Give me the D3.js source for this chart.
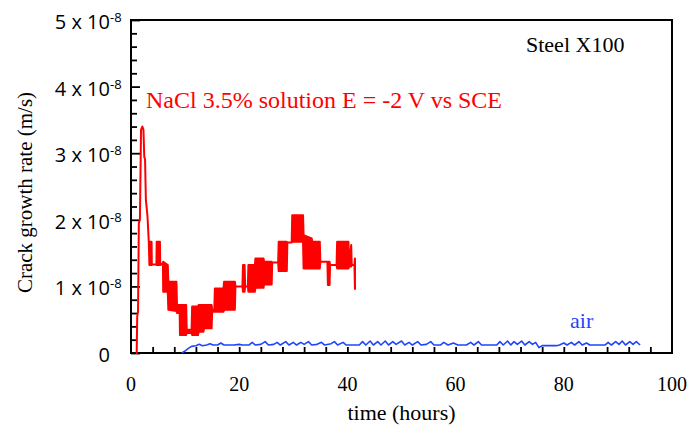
<!DOCTYPE html>
<html>
<head>
<meta charset="utf-8">
<script src="https://cdn.jsdelivr.net/npm/d3@7"></script>
<style>
body { margin: 0; background: #fff; }
</style>
</head>
<body>
<script>
var width = 688,
    height = 430;

// crack growth rate in units of 1e-8 m/s, time in hours
// red (NaCl) series: the fast oscillation is kept as low / high envelope
var redTime = [
  1.05, 1.15, 1.3, 1.45, 1.65, 1.85, 2.1, 2.3, 2.45, 2.6,
  2.75, 3.05, 3.3, 3.4, 3.8, 3.85, 4.7, 4.75, 5.35, 5.4,
  5.9, 5.95, 6.8, 6.9, 8.4, 8.5, 9.0, 9.05, 10.2, 10.3,
  11.2, 11.3, 12.4, 12.5, 13.4, 13.5, 14.9, 15.0, 15.4, 15.5,
  17.1, 17.2, 19.2, 19.3, 20.6, 20.7, 21.0, 21.1, 21.6, 21.7,
  22.9, 23.0, 24.5, 24.6, 26.0, 26.1, 27.2, 27.3, 28.8, 28.9,
  29.7, 29.8, 31.8, 31.9, 33.4, 33.5, 34.9, 35.0, 36.3, 36.4,
  36.7, 36.8, 38.0, 38.1, 40.2, 40.3, 40.7, 40.8, 41.3, 41.4
];
var redLow = [
  0, 0.55, 0.62, 1.95, 2.0, 3.35, 3.4, 3.35, 2.95, 2.9,
  2.3, 2.05, 1.65, 1.32, 1.32, 1.33, 1.33, 1.32, 1.32, 1.32,
  1.35, 0.92, 0.92, 0.65, 0.63, 0.6, 0.6, 0.27, 0.27, 0.3,
  0.3, 0.27, 0.27, 0.32, 0.32, 0.37, 0.37, 0.62, 0.62, 0.62,
  0.62, 0.65, 0.65, 1.0, 1.0, 0.92, 0.92, 1.0, 1.0, 0.92,
  0.92, 0.98, 0.98, 1.03, 1.03, 1.36, 1.36, 1.23, 1.23, 1.66,
  1.66, 1.67, 1.67, 1.27, 1.27, 1.27, 1.27, 1.37, 1.37, 1.02,
  1.02, 1.32, 1.32, 1.27, 1.27, 1.3, 1.3, 1.32, 1.32, 0.96
];
var redHigh = [
  0, 0.55, 0.62, 1.95, 2.0, 3.35, 3.4, 3.35, 2.95, 2.9,
  2.3, 2.05, 1.65, 1.67, 1.67, 1.33, 1.33, 1.67, 1.67, 1.32,
  1.35, 1.37, 1.32, 1.07, 1.07, 0.72, 0.72, 0.72, 0.72, 0.35,
  0.35, 0.7, 0.7, 0.72, 0.72, 0.72, 0.72, 0.65, 0.65, 0.97,
  0.97, 1.07, 1.07, 1.0, 1.0, 1.32, 1.32, 1.0, 1.0, 1.32,
  1.32, 1.42, 1.42, 1.37, 1.37, 1.36, 1.36, 1.67, 1.67, 1.66,
  1.66, 2.07, 2.07, 1.77, 1.72, 1.67, 1.67, 1.37, 1.37, 1.37,
  1.37, 1.32, 1.32, 1.67, 1.67, 1.3, 1.62, 1.32, 1.32, 1.42
];

// blue (air) series
var blueTime = [
  9.4, 10.0, 10.6, 11.2, 12.0, 12.6, 13.2, 14.0, 14.6, 15.2,
  16.0, 16.6, 17.2, 18.0, 19.0, 20.0, 20.6, 21.8, 22.4, 23.0,
  24.0, 24.8, 25.4, 26.4, 27.0, 27.6, 28.6, 29.2, 30.0, 30.6,
  31.4, 32.0, 32.8, 33.4, 34.4, 35.2, 35.8, 37.0, 37.6, 38.2,
  39.2, 39.8, 41.0, 42.2, 42.8, 43.4, 44.2, 44.8, 45.6, 46.2,
  47.0, 47.6, 48.4, 49.0, 50.0, 50.6, 51.4, 52.0, 53.0, 53.6,
  54.6, 55.4, 56.0, 57.2, 57.8, 58.6, 59.6, 60.4, 62.0, 62.8,
  63.4, 64.2, 64.8, 66.0, 67.6, 68.2, 68.8, 69.6, 70.2, 70.8,
  71.4, 72.2, 72.8, 73.6, 74.2, 74.8, 75.4, 76.0, 78.6, 79.2,
  80.0, 80.6, 81.4, 82.0, 82.8, 83.4, 84.2, 84.8, 86.0, 87.6,
  88.2, 88.8, 89.6, 90.2, 90.8, 91.4, 92.2, 92.8, 93.4, 94.1
];
var blueRate = [
  0.00, 0.03, 0.07, 0.10, 0.11, 0.13, 0.11, 0.12, 0.14, 0.12,
  0.12, 0.15, 0.12, 0.12, 0.12, 0.13, 0.12, 0.12, 0.16, 0.12,
  0.13, 0.17, 0.12, 0.13, 0.16, 0.12, 0.17, 0.12, 0.16, 0.12,
  0.16, 0.13, 0.17, 0.12, 0.13, 0.16, 0.12, 0.14, 0.17, 0.12,
  0.16, 0.12, 0.12, 0.12, 0.17, 0.12, 0.18, 0.12, 0.17, 0.12,
  0.18, 0.12, 0.17, 0.13, 0.18, 0.12, 0.16, 0.12, 0.17, 0.12,
  0.13, 0.17, 0.12, 0.12, 0.16, 0.12, 0.15, 0.12, 0.12, 0.16,
  0.12, 0.17, 0.12, 0.12, 0.12, 0.17, 0.12, 0.18, 0.12, 0.17,
  0.13, 0.18, 0.12, 0.17, 0.13, 0.16, 0.08, 0.11, 0.11, 0.12,
  0.15, 0.12, 0.16, 0.12, 0.17, 0.12, 0.15, 0.12, 0.12, 0.12,
  0.16, 0.12, 0.17, 0.13, 0.18, 0.12, 0.17, 0.13, 0.17, 0.12
];

var xTickValues = [0, 20, 40, 60, 80, 100];
var yTickValues = [0, 1, 2, 3, 4, 5];

var serif = "'Liberation Serif', 'Times New Roman', serif",
    sans = "'Open Sans', 'Liberation Sans', sans-serif";

var svg = d3.select("body").append("svg")
            .attr("width", width)
            .attr("height", height);

var x = d3.scaleLinear().domain([0, 100]).range([131, 672]);
var y = d3.scaleLinear().domain([0, 5]).range([353, 20]);

// ticks, all pointing inside
var xMinor = d3.range(1, 25).map(function(i) { return i * 4; });
var yMinor = d3.range(1, 25).filter(function(i) { return i % 5 != 0; }).map(function(i) { return i / 5; });

svg.append("g")
   .attr("class", "ticks")
   .attr("transform", "translate(0," + y(0) + ")")
   .call(d3.axisBottom(x).tickValues(xMinor).tickSize(-6).tickFormat(""));

svg.append("g")
   .attr("class", "ticks")
   .attr("transform", "translate(" + x(0) + ",0)")
   .call(d3.axisLeft(y).tickValues(yMinor).tickSize(-6).tickFormat(""));

svg.append("g")
   .attr("class", "ticks")
   .attr("transform", "translate(" + x(0) + ",0)")
   .call(d3.axisLeft(y).tickValues(yTickValues).tickSize(-9).tickFormat(""));

svg.selectAll(".ticks .domain").remove();
svg.selectAll(".ticks line").attr("stroke", "#000").attr("stroke-width", 1.8);

// frame
svg.append("rect")
   .attr("x", x(0))
   .attr("y", y(5))
   .attr("width", x(100) - x(0))
   .attr("height", y(0) - y(5))
   .attr("fill", "none")
   .attr("stroke", "#000")
   .attr("stroke-width", 2);

// x tick labels
svg.selectAll(".xlabel")
   .data(xTickValues)
   .enter().append("text")
   .attr("x", function(d) { return x(d); })
   .attr("y", 391)
   .attr("text-anchor", "middle")
   .style("font-family", serif)
   .style("font-size", "20px")
   .text(function(d) { return d; });

// y tick labels: "n x 10" with superscript -8
var yl = svg.selectAll(".ylabel")
   .data(yTickValues)
   .enter().append("g");

yl.append("text")
  .attr("x", 110)
  .attr("y", function(d) { return y(d) + 9; })
  .attr("text-anchor", "end")
  .style("font-family", sans)
  .style("font-size", "20px")
  .text(function(d) { return d == 0 ? "0" : d + " x 10"; });

yl.filter(function(d) { return d != 0; })
  .append("text")
  .attr("x", 110)
  .attr("y", function(d) { return y(d) + 2; })
  .style("font-family", sans)
  .style("font-size", "13px")
  .text("-8");

// axis titles
svg.append("text")
   .attr("x", (x(0) + x(100)) / 2)
   .attr("y", 420)
   .attr("text-anchor", "middle")
   .style("font-family", serif)
   .style("font-size", "22px")
   .text("time (hours)");

svg.append("text")
   .attr("transform", "translate(32," + ((y(0) + y(5)) / 2 + 6) + ")rotate(-90)")
   .attr("text-anchor", "middle")
   .style("font-family", serif)
   .style("font-size", "21px")
   .text("Crack growth rate (m/s)");

// red series as envelope
var red = redTime.map(function(t, i) { return { t: t, lo: redLow[i], hi: redHigh[i] }; });

var redArea = d3.area()
                .x(function(d) { return x(d.t); })
                .y0(function(d) { return y(d.lo); })
                .y1(function(d) { return y(d.hi); });

svg.append("path")
   .datum(red)
   .attr("d", redArea)
   .attr("fill", "#ff0000")
   .attr("stroke", "#ff0000")
   .attr("stroke-width", 2)
   .attr("stroke-linejoin", "round");

// blue series
var blue = blueTime.map(function(t, i) { return { t: t, v: blueRate[i] }; });

var blueLine = d3.line()
                 .x(function(d) { return x(d.t); })
                 .y(function(d) { return y(d.v); });

svg.append("path")
   .datum(blue)
   .attr("d", blueLine)
   .attr("fill", "none")
   .attr("stroke", "#1f45fc")
   .attr("stroke-width", 1.6)
   .attr("stroke-linejoin", "round");

// annotations
svg.append("text")
   .attr("x", 146)
   .attr("y", 108)
   .attr("fill", "#ff0000")
   .style("font-family", serif)
   .style("font-size", "24px")
   .text("NaCl 3.5% solution E = -2 V vs SCE");

svg.append("text")
   .attr("x", 526)
   .attr("y", 52)
   .style("font-family", serif)
   .style("font-size", "22px")
   .text("Steel X100");

svg.append("text")
   .attr("x", 570)
   .attr("y", 328)
   .attr("fill", "#1f45fc")
   .style("font-family", serif)
   .style("font-size", "22px")
   .text("air");
</script>
</body>
</html>
